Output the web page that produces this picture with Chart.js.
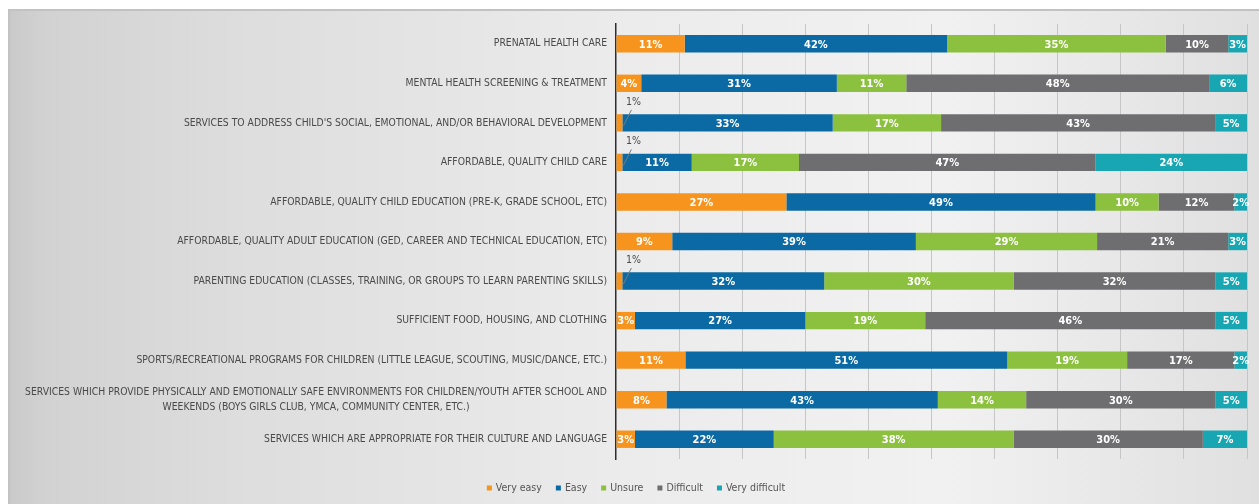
<!DOCTYPE html>
<html>
<head>
<meta charset="utf-8">
<script src="https://cdn.jsdelivr.net/npm/chart.js@4.4.1/dist/chart.umd.min.js"></script>
<style>
  html, body { margin: 0; padding: 0; background: #fff; }
  #wrap { width: 1259px; height: 504px; position: relative; }
</style>
</head>
<body>
<div id="wrap"><canvas id="main-chart"></canvas></div>
<script>
//categories (top to bottom)
const categories = [
  'PRENATAL HEALTH CARE',
  'MENTAL HEALTH SCREENING & TREATMENT',
  "SERVICES TO ADDRESS CHILD'S SOCIAL, EMOTIONAL, AND/OR BEHAVIORAL DEVELOPMENT",
  'AFFORDABLE, QUALITY CHILD CARE',
  'AFFORDABLE, QUALITY CHILD EDUCATION (PRE-K, GRADE SCHOOL, ETC)',
  'AFFORDABLE, QUALITY ADULT EDUCATION (GED, CAREER AND TECHNICAL EDUCATION, ETC)',
  'PARENTING EDUCATION (CLASSES, TRAINING, OR GROUPS TO LEARN PARENTING SKILLS)',
  'SUFFICIENT FOOD, HOUSING, AND CLOTHING',
  'SPORTS/RECREATIONAL PROGRAMS FOR CHILDREN (LITTLE LEAGUE, SCOUTING, MUSIC/DANCE, ETC.)',
  ['SERVICES WHICH PROVIDE PHYSICALLY AND EMOTIONALLY SAFE ENVIRONMENTS FOR CHILDREN/YOUTH AFTER SCHOOL AND',
   'WEEKENDS (BOYS GIRLS CLUB, YMCA, COMMUNITY CENTER, ETC.)'],
  'SERVICES WHICH ARE APPROPRIATE FOR THEIR CULTURE AND LANGUAGE'
];

//series values (percent)
const veryEasy      = [11, 4, 1, 1, 27, 9, 1, 3, 11, 8, 3];
const easy          = [42, 31, 33, 11, 49, 39, 32, 27, 51, 43, 22];
const unsure        = [35, 11, 17, 17, 10, 29, 30, 19, 19, 14, 38];
const difficult     = [10, 48, 43, 47, 12, 21, 32, 46, 17, 30, 30];
const veryDifficult = [3, 6, 5, 24, 2, 3, 5, 5, 2, 5, 7];

const seriesNames  = ['Very easy', 'Easy', 'Unsure', 'Difficult', 'Very difficult'];
const seriesValues = [veryEasy, easy, unsure, difficult, veryDifficult];
const seriesColors = ['#f7941d', '#0b6aa3', '#8cc03f', '#6e6e70', '#18a6b2'];

const labelFont = '"Liberation Sans Narrow", "DejaVu Sans Condensed", sans-serif';

//row totals, used to stretch each bar to 100% like the original
const totals = categories.map((c, i) => seriesValues.reduce((s, arr) => s + arr[i], 0));

//background panel
const panelPlugin = {
  id: 'panel',
  beforeDraw(chart) {
    const ctx = chart.ctx;
    const w = chart.width, h = chart.height;
    ctx.save();
    ctx.fillStyle = '#ffffff';
    ctx.fillRect(0, 0, w, h);
    const g = ctx.createLinearGradient(8, 0, w, 0);
    g.addColorStop(0, '#c9c9c9');
    g.addColorStop(0.03, '#d2d2d2');
    g.addColorStop(0.18, '#dddddd');
    g.addColorStop(0.5, '#ececec');
    g.addColorStop(0.75, '#f1f1f1');
    g.addColorStop(1, '#e0e0e0');
    ctx.fillStyle = g;
    ctx.fillRect(8, 9, w - 8, h - 9);
    ctx.fillStyle = '#c2c2c2';
    ctx.fillRect(8, 9, w - 8, 2);
    ctx.fillRect(8, 9, 2, h - 9);
    ctx.restore();
  }
};

//category labels, value labels and legend
const textPlugin = {
  id: 'texts',
  afterDatasetsDraw(chart) {
    const ctx = chart.ctx;
    const yScale = chart.scales.y;
    const area = chart.chartArea;
    ctx.save();

    //category labels
    ctx.font = '10.3px ' + labelFont;
    ctx.fillStyle = '#4a4a4a';
    ctx.textBaseline = 'middle';
    categories.forEach((lab, i) => {
      const y = yScale.getPixelForValue(i);
      const xr = area.left - 9;
      if (Array.isArray(lab)) {
        const maxW = Math.max(...lab.map(t => ctx.measureText(t).width));
        ctx.textAlign = 'center';
        lab.forEach((t, k) => {
          ctx.fillText(t, xr - maxW / 2, y + (k - (lab.length - 1) / 2) * 15);
        });
      } else {
        ctx.textAlign = 'right';
        ctx.fillText(lab, xr, y);
      }
    });

    //value labels
    chart.data.datasets.forEach((ds, di) => {
      const meta = chart.getDatasetMeta(di);
      meta.data.forEach((bar, i) => {
        const v = seriesValues[di][i];
        const left = Math.min(bar.x, bar.base);
        const right = Math.max(bar.x, bar.base);
        const cx = (left + right) / 2;
        if (v <= 1) {
          //outside label with leader line
          ctx.strokeStyle = '#7a7a7a';
          ctx.lineWidth = 1;
          ctx.beginPath();
          ctx.moveTo(cx + 12, bar.y - 13);
          ctx.lineTo(cx + 4, bar.y + 3);
          ctx.stroke();
          ctx.font = '10.5px ' + labelFont;
          ctx.fillStyle = '#4a4a4a';
          ctx.textAlign = 'center';
          ctx.fillText(v + '%', cx + 14, bar.y - 21);
        } else {
          ctx.font = 'bold 11px ' + labelFont;
          ctx.fillStyle = '#ffffff';
          ctx.textAlign = 'center';
          ctx.fillText(v + '%', cx, bar.y + 1);
        }
      });
    });

    //legend
    ctx.font = '10.5px ' + labelFont;
    ctx.textAlign = 'left';
    const box = 5, gapBox = 4, gapItem = 14;
    const widths = seriesNames.map(n => box + gapBox + ctx.measureText(n).width);
    const total = widths.reduce((a, b) => a + b, 0) + gapItem * (widths.length - 1);
    let x = 636 - total / 2;
    const ly = 488;
    seriesNames.forEach((n, k) => {
      ctx.fillStyle = seriesColors[k];
      ctx.fillRect(x, ly - box / 2, box, box);
      ctx.fillStyle = '#555555';
      ctx.fillText(n, x + box + gapBox, ly);
      x += widths[k] + gapItem;
    });

    ctx.restore();
  }
};

const chart_elem = document.getElementById('main-chart');
const main_chart = new Chart(chart_elem, {
  type: 'bar',
  data: {
    labels: categories,
    datasets: seriesNames.map((name, k) => ({
      label: name,
      data: seriesValues[k].map((v, i) => v / totals[i] * 100),
      backgroundColor: seriesColors[k],
      borderWidth: 0,
      categoryPercentage: 1,
      barPercentage: 0.44
    }))
  },
  options: {
    indexAxis: 'y',
    responsive: true,
    maintainAspectRatio: false,
    animation: false,
    layout: { padding: { left: 8, right: 12, top: 24, bottom: 45 } },
    scales: {
      x: {
        stacked: true,
        min: 0,
        max: 100,
        ticks: { display: false, stepSize: 10 },
        border: { display: false },
        grid: {
          drawTicks: false,
          color: (c) => c.index === 0 ? 'rgba(0,0,0,0)' : '#c6c6c6',
          lineWidth: 1
        },
        afterFit(scale) { scale.height = 0; }
      },
      y: {
        stacked: true,
        ticks: { display: false },
        grid: { display: false, drawTicks: false },
        border: { display: true, color: '#2e2e2e', width: 1.5 },
        afterFit(scale) { scale.width = 608; }
      }
    },
    plugins: {
      legend: { display: false },
      tooltip: { enabled: false }
    }
  },
  plugins: [panelPlugin, textPlugin]
});
</script>
</body>
</html>
